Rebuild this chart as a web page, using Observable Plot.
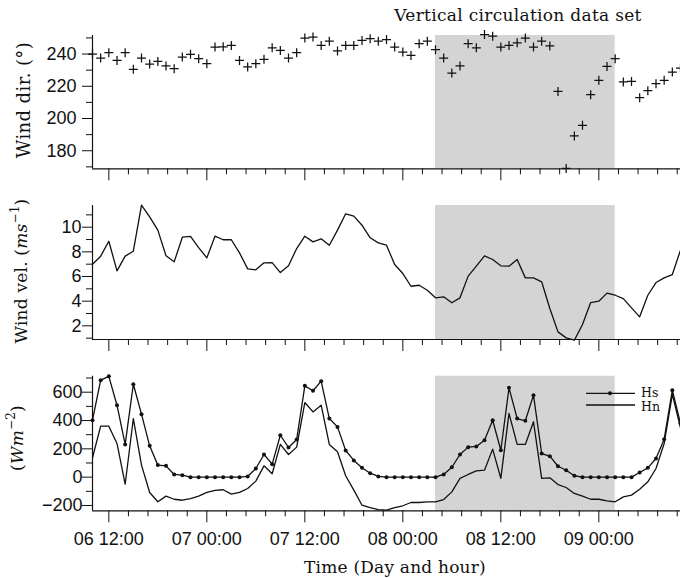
<!DOCTYPE html>
<html><head><meta charset="utf-8">
<script src="https://cdn.jsdelivr.net/npm/d3@7"></script>
<script src="https://cdn.jsdelivr.net/npm/@observablehq/plot@0.6"></script>
<style>
body{margin:0;background:#fff;}
#chart{position:relative;width:680px;height:578px;overflow:hidden;background:#fff;}
#chart svg{position:absolute;left:0;overflow:visible;}
</style></head><body><div id="chart"></div>
<script>
// ---- data (hourly, starting 06 10:00) ----
const windDir = [
  240, 237.5, 240.8, 236, 240.8, 230.5, 237.5, 233.8, 235.4, 232.6,
  230.9, 238.1, 239.8, 237.1, 234, 244.3, 244.5, 245.3, 236, 232,
  234, 236.7, 243.9, 242.2, 237.5, 240.8, 249.9, 250.5, 245.3, 248,
  241.9, 245.3, 245.3, 248.4, 249.5, 248, 249, 244.3, 241.2, 239.1,
  246.4, 248, 242.7, 237.5, 228.2, 232.6, 246.4, 243.9, 252.1, 251.1,
  244.3, 245.3, 247, 249.9, 244.3, 248, 245, 216.8, 169, 189.2,
  195.8, 214.8, 223.7, 232.3, 237.1, 222.7, 223, 212.9, 217.3, 221.6,
  223.7, 228.8, 231.3];
const windVel = [
  7.0, 7.65, 8.86, 6.46, 7.65, 8.05, 11.79, 10.84, 9.76, 7.68,
  7.19, 9.19, 9.25, 8.35, 7.51, 9.27, 8.98, 8.98, 7.92, 6.62,
  6.54, 7.11, 7.13, 6.32, 6.87, 8.27, 9.27, 8.81, 9.06, 8.54,
  9.76, 11.09, 10.9, 10.16, 9.14, 8.73, 8.54, 6.97, 6.24, 5.21,
  5.29, 4.89, 4.27, 4.35, 3.87, 4.27, 6.03, 6.84, 7.68, 7.38,
  6.87, 6.84, 7.38, 5.89, 5.89, 5.57, 3.40, 1.51, 1.02, 0.83,
  2.11, 3.89, 4.0, 4.65, 4.48, 4.21, 3.46, 2.73, 4.48, 5.51,
  5.89, 6.16, 8.14];
const hs = [
  402, 685, 712, 508, 231, 656, 445, 221, 85, 80,
  19, 14, 0, 0, 0, 0, 0, 0, 0, 5,
  61, 160, 92, 296, 210, 266, 645, 610, 678, 414,
  355, 188, 118, 66, 28, 5, 0, 0, 0, 0,
  0, 0, 0, 19, 70, 160, 212, 217, 261, 402,
  190, 631, 414, 398, 579, 167, 148, 77, 49, 10,
  0, 0, 0, 0, 0, 0, 0, 33, 66, 132,
  268, 614, 379];
const hn = [
  137, 360, 360, 238, -50, 414, 85, -108, -174, -134,
  -156, -163, -151, -134, -108, -94, -89, -120, -108, -80,
  -28, 80, 24, 231, 160, 212, 527, 461, 508, 231,
  179, 10, -92, -198, -216, -230, -233, -216, -202, -179,
  -179, -174, -174, -158, -104, -9, 19, 45, 49, 198,
  -9, 450, 231, 231, 391, -9, -5, -52, -73, -115,
  -134, -156, -156, -167, -174, -139, -127, -85, -33, 61,
  238, 584, 349];

const startTime = new Date(Date.UTC(2000, 0, 6, 10));
const endTime = new Date(Date.UTC(2000, 0, 9, 10));
const shade = [{from: new Date(Date.UTC(2000, 0, 8, 4)), to: new Date(Date.UTC(2000, 0, 9, 2))}];

const xTickTimes = [
  new Date(Date.UTC(2000, 0, 6, 12)), new Date(Date.UTC(2000, 0, 7, 0)),
  new Date(Date.UTC(2000, 0, 7, 12)), new Date(Date.UTC(2000, 0, 8, 0)),
  new Date(Date.UTC(2000, 0, 8, 12)), new Date(Date.UTC(2000, 0, 9, 0))];
const xTickLabels = ["06 12:00", "07 00:00", "07 12:00", "08 00:00", "08 12:00", "09 00:00"];

const dirTicks = [180, 200, 220, 240], dirTickLabels = ["180", "200", "220", "240"];
const dirMinor = [170, 190, 210, 230, 250];
const velTicks = [2, 4, 6, 8, 10], velTickLabels = ["2", "4", "6", "8", "10"];
const velMinor = [1, 3, 5, 7, 9, 11];
const fluxTicks = [-200, 0, 200, 400, 600], fluxTickLabels = ["\u2212200", "0", "200", "400", "600"];
const fluxMinor = [-100, 100, 300, 500, 700];

// ---- build tables ----
const times = windDir.map((_, i) => d3.utcHour.offset(startTime, i));
const rows = times.map((t, i) => ({t, dir: windDir[i], vel: windVel[i], hs: hs[i], hn: hn[i]}));

// minor x ticks: 5 subdivisions of each 12 h interval
const minorX = [];
for (let k = -1; k < 7; k++) for (let j = 1; j < 5; j++) {
  const t = new Date(Date.UTC(2000, 0, 6, 12) + (k * 12 + j * 2.4) * 3600e3);
  if (t >= startTime && t <= endTime) minorX.push(t);
}
const xLabel = new Map(xTickTimes.map((t, i) => [+t, xTickLabels[i]]));

const plusSymbol = {draw(ctx, size) {
  const r = Math.sqrt(size / Math.PI);
  ctx.moveTo(-r, 0); ctx.lineTo(r, 0); ctx.moveTo(0, -r); ctx.lineTo(0, r);
}};

const SANS = "'Liberation Sans', Arial, sans-serif";
const SERIF = "'DejaVu Serif', serif";
const INK = "#111";
const GRAY = "#d4d4d4";

function panel({height, marginTop, marginBottom, domain, yTicks, yLabels, yMinor, yPad, xLabels, marks}) {
  const ylab = new Map(yTicks.map((v, i) => [v, yLabels[i]]));
  return Plot.plot({
    width: 680, height, marginLeft: 92, marginRight: 0, marginTop, marginBottom,
    style: {fontFamily: SANS, fontSize: "18px", color: INK, background: "transparent", overflow: "visible"},
    x: {type: "utc", domain: [startTime, endTime]},
    y: {domain},
    marks: [
      Plot.rect(shade, {x1: "from", x2: "to", fill: GRAY}),
      ...marks,
      Plot.ruleY([domain[0]], {stroke: INK, strokeWidth: 1.2}),
      Plot.ruleX([startTime], {stroke: INK, strokeWidth: 1.2}),
      Plot.axisY({ticks: yTicks, tickSize: 10, tickPadding: yPad, tickFormat: d => ylab.get(d), label: null, fontSize: 18}),
      Plot.axisY({ticks: yMinor, tickSize: 6, tickFormat: () => "", label: null}),
      Plot.axisX({ticks: xTickTimes, tickSize: 12, tickPadding: 9, tickFormat: xLabels ? (d => xLabel.get(+d)) : (() => ""), label: null, fontSize: 18}),
      Plot.axisX({ticks: minorX, tickSize: 6, tickFormat: () => "", label: null})
    ]
  });
}

const chart = document.getElementById("chart");

const p1 = panel({
  height: 190, marginTop: 35, marginBottom: 21.7, domain: [168.8, 251.5],
  yTicks: dirTicks, yLabels: dirTickLabels, yMinor: dirMinor, yPad: 6, xLabels: false,
  marks: [Plot.dot(rows, {x: "t", y: "dir", symbol: plusSymbol, r: 4.5, stroke: INK, strokeWidth: 1.25, fill: "none"})]
});
p1.style.top = "0px";
chart.appendChild(p1);

const p2 = panel({
  height: 160, marginTop: 15, marginBottom: 11, domain: [0.89, 11.76],
  yTicks: velTicks, yLabels: velTickLabels, yMinor: velMinor, yPad: 1, xLabels: false,
  marks: [Plot.line(rows, {x: "t", y: "vel", stroke: INK, strokeWidth: 1.3})]
});
p2.style.top = "190px";
chart.appendChild(p2);

const p3 = panel({
  height: 228, marginTop: 25.7, marginBottom: 67.7, domain: [-237.6, 713],
  yTicks: fluxTicks, yLabels: fluxTickLabels, yMinor: fluxMinor, yPad: 0, xLabels: true,
  marks: [
    Plot.line(rows, {x: "t", y: "hn", stroke: INK, strokeWidth: 1.3}),
    Plot.line(rows, {x: "t", y: "hs", stroke: INK, strokeWidth: 1.3}),
    Plot.dot(rows, {x: "t", y: "hs", r: 2, fill: INK})
  ]
});
p3.style.top = "350px";
chart.appendChild(p3);

// ---- titles / labels (real text) ----
function rotLabel(svg, x, y, size, spacing, parts) {
  const t = d3.select(svg).append("text")
    .attr("transform", `translate(${x},${y}) rotate(-90)`)
    .attr("text-anchor", "middle").attr("dominant-baseline", "central")
    .style("font-family", SERIF).style("font-size", size + "px")
    .style("letter-spacing", spacing + "px").attr("fill", INK);
  parts.forEach(p => {
    const s = t.append("tspan").text(p.text);
    if (p.italic) s.style("font-style", "italic");
    if (p.sup) s.attr("dy", -6).style("font-size", "12px");
    if (p.down) s.attr("dy", 6);
  });
}
rotLabel(p1, 23, 100, 18, 0.4, [{text: "Wind dir. (\u00B0)"}]);
rotLabel(p2, 21, 81, 17, 0.2, [{text: "Wind vel. ("}, {text: "ms", italic: true}, {text: "\u22121", sup: true}, {text: ")", down: true}]);
rotLabel(p3, 17, 88, 17, 0.2, [{text: "("}, {text: "Wm", italic: true}, {text: "\u22122", sup: true}, {text: ")", down: true}]);

d3.select(p1).append("text").attr("x", 518).attr("y", 15)
  .attr("text-anchor", "middle").attr("dominant-baseline", "central")
  .style("font-family", SERIF).style("font-size", "17px").style("letter-spacing", "0.3px").attr("fill", INK)
  .text("Vertical circulation data set");

d3.select(p3).append("text").attr("x", 395).attr("y", 217)
  .attr("text-anchor", "middle").attr("dominant-baseline", "central")
  .style("font-family", SERIF).style("font-size", "17px").style("letter-spacing", "0.2px").attr("fill", INK)
  .text("Time (Day and hour)");

// legend
const lg = d3.select(p3).append("g");
lg.append("line").attr("x1", 586).attr("x2", 635).attr("y1", 43.3).attr("y2", 43.3).attr("stroke", INK).attr("stroke-width", 1.3);
lg.append("circle").attr("cx", 610).attr("cy", 43.3).attr("r", 2).attr("fill", INK);
lg.append("line").attr("x1", 586).attr("x2", 635).attr("y1", 55).attr("y2", 55).attr("stroke", INK).attr("stroke-width", 1.3);
lg.append("text").attr("x", 641).attr("y", 42.5).attr("text-anchor", "start").attr("dominant-baseline", "central")
  .style("font-family", SERIF).style("font-size", "12.5px").attr("fill", INK).text("Hs");
lg.append("text").attr("x", 641).attr("y", 56).attr("text-anchor", "start").attr("dominant-baseline", "central")
  .style("font-family", SERIF).style("font-size", "12.5px").attr("fill", INK).text("Hn");
</script></body></html>
